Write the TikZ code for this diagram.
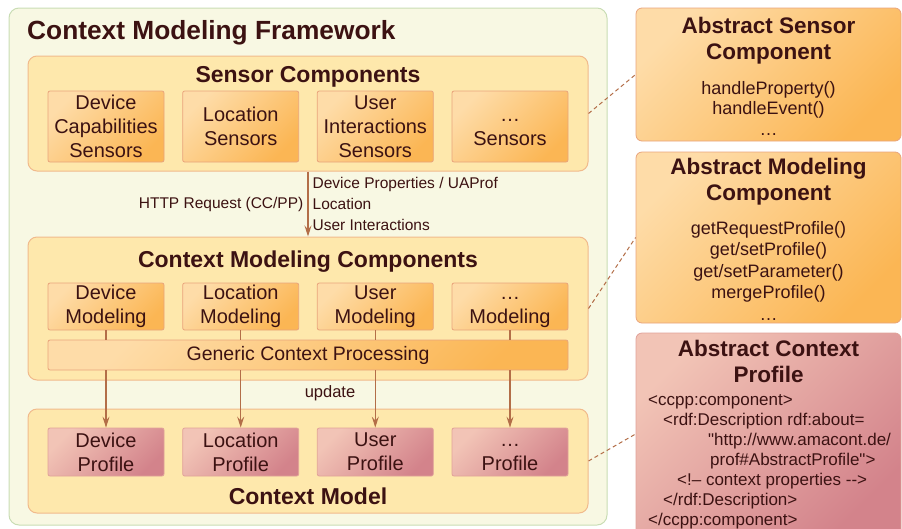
\documentclass[tikz,border=0pt]{standalone}
\usepackage{fontspec}
\setmainfont{Liberation Sans}
\newfontfamily\xmlfont{Liberation Sans}[Ligatures=TeXOff]
\usepackage{xcolor}
\usepackage{tikz}
\usetikzlibrary{positioning, arrows.meta}

\definecolor{inkbrown}{HTML}{3C1212}
\definecolor{linkbrown}{HTML}{B36E48}
\definecolor{framefill}{HTML}{F8F8E3}
\definecolor{frameline}{HTML}{C9DDB4}
\definecolor{groupfill}{HTML}{FEE8AC}
\definecolor{groupline}{HTML}{F1BA8C}
\definecolor{orangelight}{HTML}{FEDCA8}
\definecolor{orangedark}{HTML}{FBB654}
\definecolor{orangeline}{HTML}{E9A47C}
\definecolor{pinklight}{HTML}{F2C4B6}
\definecolor{pinkdark}{HTML}{D3838B}
\definecolor{pinkline}{HTML}{E1A299}

\begin{document}
\begin{tikzpicture}[x=1pt, y=-1pt, text=inkbrown,
    framebox/.style={draw=frameline, fill=framefill, line width=1pt, rounded corners=10pt},
    groupbox/.style={draw=groupline, fill=groupfill, line width=1pt, rounded corners=9pt,
      minimum width=560pt, inner sep=0pt},
    compbox/.style={draw=orangeline, line width=0.8pt, rounded corners=2pt,
      top color=orangelight, bottom color=orangedark, shading angle=45,
      minimum width=116pt, inner sep=0pt, align=center, font=\fontsize{20}{24}\selectfont},
    profbox/.style={compbox, draw=pinkline, top color=pinklight, bottom color=pinkdark, shading angle=45},
    absbox/.style={compbox, rounded corners=6pt, minimum width=265pt},
    grouptitle/.style={font=\bfseries\fontsize{23}{27}\selectfont, inner sep=0pt, anchor=base},
    abstitle/.style={font=\bfseries\fontsize{22.5}{26}\selectfont, align=center, inner sep=0pt},
    absmethods/.style={font=\fontsize{18}{20.5}\selectfont, align=center, inner sep=0pt},
    smalllabel/.style={font=\fontsize{15.5}{21}\selectfont, inner sep=4pt},
    wire/.style={draw=linkbrown, line width=1.3pt},
    flow/.style={wire, -{Stealth[length=11pt, width=7pt, inset=4pt]}},
    dashlink/.style={draw=linkbrown, line width=1pt, dash pattern=on 4pt off 3pt}]
    \useasboundingbox (0,0) rectangle (902,528);
    \clip (0,0) rectangle (902,528);

    % Framework
    \node[framebox, minimum width=598pt, minimum height=517pt] (framework) at (308,266.5) {};
    \node[font=\bfseries\fontsize{26.3}{30}\selectfont, anchor=base west, inner sep=0pt] (fwtitle)
      at (27,39.5) {Context Modeling Framework};

    % Groups
    \node[groupbox, minimum height=115pt] (sensorgrp) at (308,113.5) {};
    \node[grouptitle] (sensortitle) at (308,82) {Sensor Components};
    \node[groupbox, minimum height=143pt] (modelgrp) at (308,308.5) {};
    \node[grouptitle] (modeltitle) at (308,267.5) {Context Modeling Components};
    \node[groupbox, minimum height=104pt] (ctxgrp) at (308,461) {};
    \node[grouptitle] (ctxtitle) at (308,504) {Context Model};

    % Sensors
    \foreach \i/\cx/\txt in {1/106/{Device\\Capabilities\\Sensors}, 2/240.7/{Location\\Sensors},
        3/375.3/{User\\Interactions\\Sensors}, 4/510/{\vphantom{L}\ldots\\Sensors}}
      \node[compbox, minimum height=71pt] (sens\i) at (\cx,126.5) {\txt};

    % Modeling
    \foreach \i/\cx/\txt in {1/106/Device, 2/240.7/Location, 3/375.3/User, 4/510/\vphantom{D}\ldots}
      \node[compbox, minimum height=47pt] (mod\i) at (\cx,306.5) {\txt\\Modeling};
    \node[compbox, minimum width=520pt, minimum height=30pt, font=\fontsize{19.5}{24}\selectfont]
      (generic) at (308,355) {Generic Context Processing};

    % Profiles
    \foreach \i/\cx/\txt in {1/106/Device, 2/240.7/Location, 3/375.3/User, 4/510/\vphantom{D}\ldots}
      \node[profbox, minimum height=48pt] (prof\i) at (\cx,452) {\txt\\Profile};

    % Connectors
    \draw[flow] (sensorgrp) -- node[smalllabel, left] (httplbl) {HTTP Request (CC/PP)}
      node[smalllabel, right, align=left] (proplbl) {Device Properties / UAProf\\Location\\User Interactions} (modelgrp);
    \foreach \i in {1,...,4} {
      \draw[wire] (mod\i) -- (mod\i |- generic.north);
      \draw[flow] (mod\i |- generic.south) -- (prof\i);
    }
    \node[smalllabel, font=\fontsize{16.5}{20}\selectfont] (updatelbl) at (330,393) {update};

    % Abstract sensor
    \node[absbox, minimum height=133pt] (abssensor) at (768.5,74.5) {};
    \node[abstitle] (abssensortitle) at (768.5,40.5) {Abstract Sensor\\Component};
    \node[absmethods] (abssensormeth) at (768.5,108) {handleProperty()\\handleEvent()\\\ldots};

    % Abstract modeling
    \node[absbox, minimum height=171pt] (absmodel) at (768.5,237.5) {};
    \node[abstitle] (absmodeltitle) at (768.5,181.5) {Abstract Modeling\\Component};
    \node[absmethods, font=\fontsize{18}{21.5}\selectfont] (absmodelmeth) at (768.5,270.5)
      {getRequestProfile()\\get/setProfile()\\get/setParameter()\\mergeProfile()\\\ldots};

    % Abstract profile
    \node[absbox, draw=pinkline, top color=pinklight, bottom color=pinkdark, shading angle=45,
      minimum height=202pt] (absprofile) at (768.5,434) {};
    \node[abstitle] (absprofiletitle) at (768.5,361.4) {Abstract Context\\Profile};
    \node[anchor=north west, inner sep=0pt, align=left, font=\xmlfont\fontsize{17}{20}\selectfont]
      (xmlcode) at (648,391) {\strut<ccpp:component>\\\hspace*{15pt}<rdf:Description rdf:about=\\\hspace*{60pt}"http://www.amacont.de/\\\hspace*{62pt}prof\#AbstractProfile">\\\hspace*{29pt}<!– context properties -->\\\hspace*{15pt}</rdf:Description>\\</ccpp:component>};

    % Links
    \draw[dashlink] (sensorgrp.east) -- (abssensor.west);
    \draw[dashlink] (modelgrp.east) -- (absmodel.west);
    \draw[dashlink] (ctxgrp.east) -- (absprofile.west);
\end{tikzpicture}
\end{document}
